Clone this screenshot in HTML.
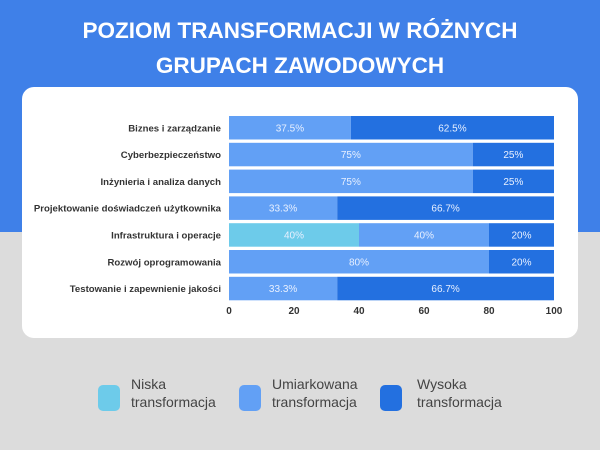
<!DOCTYPE html>
<html><head><meta charset="utf-8"><style>
body{margin:0;width:600px;height:450px;overflow:hidden;font-family:"Liberation Sans",sans-serif;background:#dcdcdc;position:relative}
.top{position:absolute;left:0;top:0;width:600px;height:232px;background:#3f80e8}
.title{position:absolute;left:0;top:13px;width:600px;text-align:center;color:#fff;font-weight:bold;font-size:22.5px;line-height:35px}
.card{position:absolute;left:22px;top:87px;width:556px;height:251px;background:#fff;border-radius:12px}
.leg{position:absolute;font-size:14px;color:#444;line-height:18px}
.sq{position:absolute;width:22px;height:26px;border-radius:5px}
</style></head><body>
<div class="top"></div>
<div class="title">POZIOM TRANSFORMACJI W RÓŻNYCH<br>GRUPACH ZAWODOWYCH</div>
<div class="card"></div>
<svg id="chart" width="600" height="450" style="position:absolute;left:0;top:0"></svg>
<div class="sq" style="left:98px;top:385px;background:#6dcbea"></div>
<div class="leg" style="left:131px;top:375px">Niska<br>transformacja</div>
<div class="sq" style="left:239px;top:385px;background:#62a0f5"></div>
<div class="leg" style="left:272px;top:375px">Umiarkowana<br>transformacja</div>
<div class="sq" style="left:380px;top:385px;background:#2370e0"></div>
<div class="leg" style="left:417px;top:375px">Wysoka<br>transformacja</div>
<script>
const categories=["Biznes i zarządzanie","Cyberbezpieczeństwo","Inżynieria i analiza danych","Projektowanie doświadczeń użytkownika","Infrastruktura i operacje","Rozwój oprogramowania","Testowanie i zapewnienie jakości"];
const low=[0,0,0,0,40,0,0];
const moderate=[37.5,75,75,33.3,40,80,33.3];
const high=[62.5,25,25,66.7,20,20,66.7];
const ticks=[0,20,40,60,80,100];
const colors=["#6dcbea","#62a0f5","#2370e0"];
const svg=document.getElementById('chart');
const NS="http://www.w3.org/2000/svg";
const x=v=>229+v*(554-229)/100;
const rowTop=i=>116+i*26.8;
const bh=23.5;
function mk(t,a){const e=document.createElementNS(NS,t);for(const k in a)e.setAttribute(k,a[k]);svg.appendChild(e);return e;}
categories.forEach((c,i)=>{
  const lb=mk('text',{x:221,y:rowTop(i)+bh/2+3.5,'text-anchor':'end','font-size':'9.6','font-weight':'bold',fill:'#333'});
  lb.textContent=c;
  
  
  let acc=0;
  [low[i],moderate[i],high[i]].forEach((v,s)=>{
    if(v<=0)return;
    const r=mk('rect',{x:x(acc),y:rowTop(i),width:x(acc+v)-x(acc),height:bh,fill:colors[s]});
    
    
    const t=mk('text',{x:(x(acc)+x(acc+v))/2,y:rowTop(i)+bh/2+3.5,'text-anchor':'middle','font-size':'10',fill:'#e8f0ff'});
    t.textContent=v+'%';
    
    
    acc+=v;
  });
});
ticks.forEach(t=>{
  const e=mk('text',{x:x(t),y:314,'text-anchor':'middle','font-size':'10','font-weight':'bold',fill:'#333'});
  e.textContent=t;
  
  
});
</script>
</body></html>
